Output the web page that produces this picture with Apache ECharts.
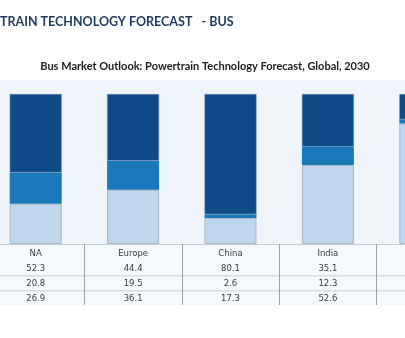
<!DOCTYPE html>
<html>
<head>
<meta charset="utf-8">
<script src="https://cdn.jsdelivr.net/npm/echarts@6/dist/echarts.min.js"></script>
<style>
  html, body { margin: 0; padding: 0; background: #ffffff; overflow: hidden; width: 405px; height: 338px; }
  #wrap { position: relative; width: 405px; height: 338px; overflow: hidden; }
  /* the canvas is wider than the window: the first and last columns run off its edges */
  #chart { position: absolute; left: -13px; top: 0; width: 487px; height: 338px; }
</style>
</head>
<body>
<div id="wrap"><div id="chart"></div></div>
<script>
// Powertrain technology shares (%) per region, 2030
const regions = ['NA', 'Europe', 'China', 'India', 'RoW'];
const topShare = [52.3, 44.4, 80.1, 35.1, 16.8];   // first table row, top of stack
const midShare = [20.8, 19.5, 2.6, 12.3, 2.9];     // second table row
const baseShare = [26.9, 36.1, 17.3, 52.6, 80.3];  // third table row, bottom of stack

const pageTitle = 'TRAIN TECHNOLOGY FORECAST   - BUS';
const chartTitle = 'Bus Market Outlook: Powertrain Technology Forecast, Global, 2030';

const OFFSET = 13;   // how far the canvas sits left of the window edge

const chart = echarts.init(document.getElementById('chart'), null, { renderer: 'canvas' });

chart.setOption({
  animation: false,
  backgroundColor: '#ffffff',
  title: [
    {
      text: pageTitle,
      left: OFFSET, top: 15, padding: 0,
      textStyle: { fontFamily: 'Lato', fontWeight: 'bold', fontSize: 12.5, color: '#1d3a5c' }
    },
    {
      text: chartTitle,
      left: OFFSET + 205, top: 61, padding: 0,
      textAlign: 'center',
      textStyle: { fontFamily: 'Lato', fontWeight: 'bold', fontSize: 11, color: '#1b1b1b' }
    }
  ],
  graphic: [
    // light band behind the bars
    { type: 'rect', shape: { x: 0, y: 80, width: 487, height: 164 }, style: { fill: '#eff4fa' }, z: -10 },
    // table body
    { type: 'rect', shape: { x: 0, y: 245, width: 487, height: 60 }, style: { fill: '#f6f9fc' }, z: -10 },
    { type: 'rect', shape: { x: 0, y: 275, width: 487, height: 1.5 }, style: { fill: '#d6dde5' }, z: -5 },
    { type: 'rect', shape: { x: 0, y: 290, width: 487, height: 1.5 }, style: { fill: '#d6dde5' }, z: -5 }
  ],
  grid: { left: 0, right: 0, top: 94, height: 150 },
  xAxis: {
    type: 'category',
    data: regions,
    boundaryGap: true,
    axisLine: { show: true, lineStyle: { color: '#c5ced8', width: 1 } },
    axisTick: { show: true, length: 61, lineStyle: { color: '#9aa3ad', width: 1 } },
    axisLabel: {
      margin: 2,
      interval: 0,
      fontFamily: 'DejaVu Sans',
      fontSize: 8.5,
      color: '#3a3a3a',
      lineHeight: 15,
      formatter: function (value, idx) {
        return [value, topShare[idx].toFixed(1), midShare[idx].toFixed(1), baseShare[idx].toFixed(1)].join('\n');
      }
    }
  },
  yAxis: {
    type: 'value', min: 0, max: 100,
    show: false,
    splitLine: { show: false }
  },
  series: [
    { name: 'base', type: 'bar', stack: 'share', barWidth: 52, data: baseShare,
      itemStyle: { color: '#bed7ec', borderColor: '#a9b6c3', borderWidth: 1 } },
    { name: 'mid', type: 'bar', stack: 'share', barWidth: 52, data: midShare,
      itemStyle: { color: '#1a78bb', borderWidth: 0 } },
    { name: 'top', type: 'bar', stack: 'share', barWidth: 52, data: topShare,
      itemStyle: { color: '#0e4a88', borderColor: '#7f93a8', borderWidth: 0.5 } }
  ]
});
</script>
</body>
</html>
